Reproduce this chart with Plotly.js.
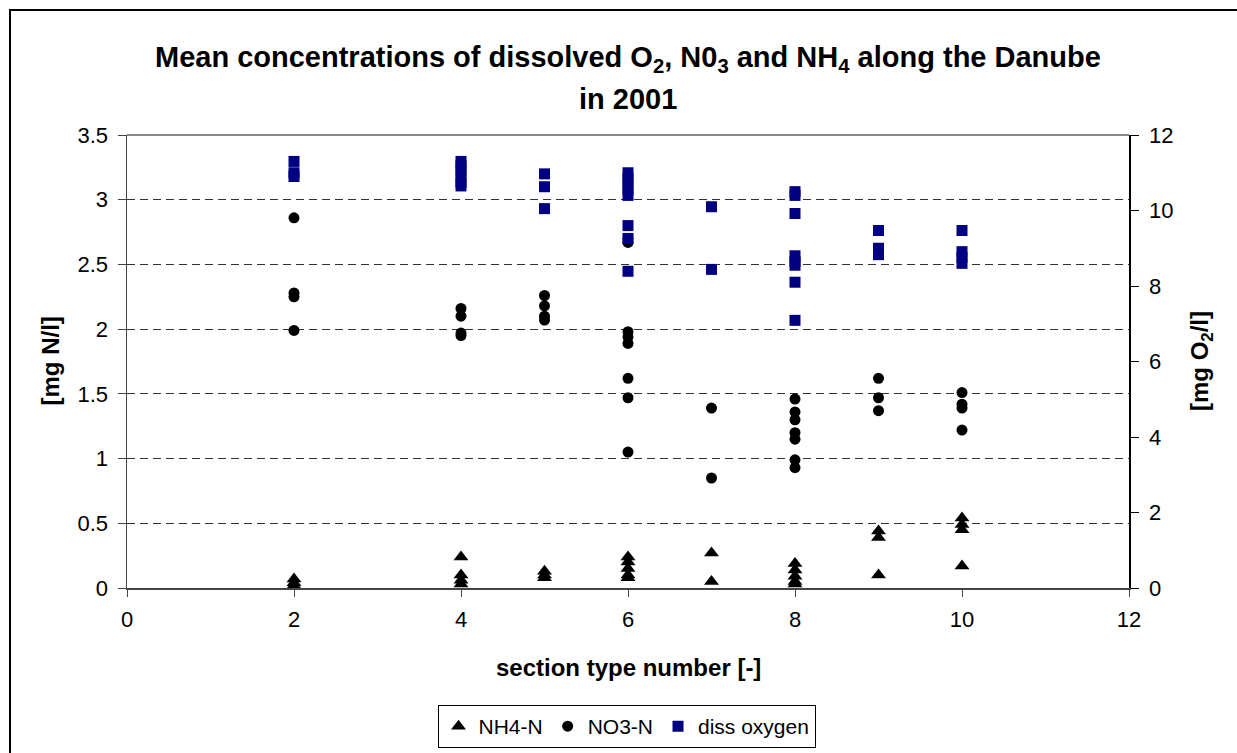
<!DOCTYPE html>
<html>
<head>
<meta charset="utf-8">
<script src="https://cdn.plot.ly/plotly-3.0.1.min.js"></script>
<style>
  html, body { margin: 0; padding: 0; background: #fff; }
  #wrap { position: relative; width: 1237px; height: 753px; overflow: hidden; }
  #chart { position: absolute; left: 0; top: 0; width: 1237px; height: 753px; }
  #frame { position: absolute; left: 9px; top: 9px; width: 1240px; height: 760px;
           border: 2px solid #000; pointer-events: none; box-sizing: border-box; }
</style>
</head>
<body>
<div id="wrap">
  <div id="chart"></div>
  <div id="frame"></div>
</div>
<script>
// ---- data ----
const nh4X = [2,2,2, 4,4,4,4, 5,5,5, 6,6,6,6,6, 7,7, 8,8,8,8,8, 9,9,9, 10,10,10,10];
const nh4Y = [0.07,0.04,0.02, 0.24,0.10,0.06,0.03, 0.13,0.10,0.08, 0.24,0.20,0.15,0.10,0.08,
              0.27,0.05, 0.19,0.14,0.09,0.05,0.03, 0.44,0.39,0.10, 0.54,0.49,0.45,0.17];

const no3X = [2,2,2,2, 4,4,4,4, 5,5,5,5, 6,6,6,6,6,6,6,6, 7,7, 8,8,8,8,8,8,8, 9,9,9, 10,10,10,10];
const no3Y = [2.86,2.28,2.25,1.99, 2.16,2.10,1.97,1.95, 2.26,2.18,2.10,2.07,
              2.70,2.67,1.98,1.94,1.89,1.62,1.47,1.05, 1.39,0.85,
              1.46,1.36,1.30,1.20,1.15,0.99,0.93, 1.62,1.47,1.37, 1.51,1.42,1.39,1.22];

const o2X = [2,2,2, 4,4,4,4,4,4, 5,5,5, 6,6,6,6,6,6,6,6, 7,7, 8,8,8,8,8,8,8,8, 9,9,9, 10,10,10,10];
const o2Y = [11.3,11.0,10.9, 11.3,11.2,11.05,10.9,10.75,10.65, 10.97,10.63,10.05,
             11.0,10.85,10.7,10.55,10.4,9.6,9.26,8.39, 10.1,8.44,
             10.5,10.4,9.92,8.8,8.65,8.55,8.1,7.09, 9.47,9.0,8.83, 9.47,8.91,8.76,8.6];

const seriesNames = ['NH4-N', 'NO3-N', 'diss oxygen'];
const xTicks = [0,2,4,6,8,10,12];
const yLeftTicks = [0,0.5,1,1.5,2,2.5,3,3.5];
const yRightTicks = [0,2,4,6,8,10,12];
const titleLine1 = 'Mean concentrations of dissolved O<sub>2</sub>, N0<sub>3</sub> and NH<sub>4</sub> along the Danube';
const titleLine2 = 'in 2001';
const xTitle = 'section type number [-]';
const yLeftTitle = '[mg N/l]';
const yRightTitle = '[mg O<sub>2</sub>/l]';

const FONT = '"Liberation Sans", Arial, sans-serif';

const traces = [
  { x: nh4X, y: nh4Y, name: seriesNames[0], type: 'scatter', mode: 'markers',
    marker: { symbol: 'triangle-up', size: 13, color: '#000' }, yaxis: 'y' },
  { x: no3X, y: no3Y, name: seriesNames[1], type: 'scatter', mode: 'markers',
    marker: { symbol: 'circle', size: 11, color: '#000' }, yaxis: 'y' },
  { x: o2X, y: o2Y, name: seriesNames[2], type: 'scatter', mode: 'markers',
    marker: { symbol: 'square', size: 11, color: '#000080' }, yaxis: 'y2' }
];

const L = 127, R = 1237 - 1129, T = 135, B = 753 - 588;
const plotW = 1129 - 127, plotH = 588 - 135;
function py(pix) { return (588 - pix) / plotH; }
function px(pix) { return (pix - 127) / plotW; }

const layout = {
  width: 1237, height: 753,
  margin: { l: L, r: R, t: T, b: B, pad: 0, autoexpand: false },
  paper_bgcolor: '#fff', plot_bgcolor: '#fff',
  font: { family: FONT, size: 22, color: '#000' },
  showlegend: true,
  legend: {
    orientation: 'h', x: px(626.5), xanchor: 'center', y: py(705), yanchor: 'top',
    bordercolor: '#000', borderwidth: 1, bgcolor: '#fff',
    font: { family: FONT, size: 21, color: '#000' },
    itemsizing: 'trace', traceorder: 'normal', itemwidth: 30,
    tracegroupgap: 0
  },
  xaxis: {
    range: [0, 12], tickvals: xTicks, ticktext: xTicks.map(String),
    showgrid: false, zeroline: false,
    showline: true, linecolor: '#444', linewidth: 2,
    ticks: 'outside', ticklen: 7, tickcolor: '#444',
    ticklabelstandoff: 4,
    tickfont: { family: FONT, size: 22, color: '#000' },
    automargin: false
  },
  yaxis: {
    range: [0, 3.5], tickvals: yLeftTicks, ticktext: yLeftTicks.map(String),
    showgrid: true, gridcolor: '#333', gridwidth: 1, griddash: '8px,5px',
    zeroline: false,
    showline: true, linecolor: '#444', linewidth: 1.5,
    ticks: 'outside', ticklen: 8, tickcolor: '#444',
    ticklabelstandoff: 5,
    tickfont: { family: FONT, size: 22, color: '#000' },
    automargin: false
  },
  yaxis2: {
    overlaying: 'y', side: 'right',
    range: [0, 12], tickvals: yRightTicks, ticktext: yRightTicks.map(String),
    showgrid: false, zeroline: false,
    showline: true, linecolor: '#000', linewidth: 1.5,
    ticks: 'outside', ticklen: 8, tickcolor: '#000',
    ticklabelstandoff: 6,
    tickfont: { family: FONT, size: 22, color: '#000' },
    automargin: false
  },
  shapes: [
    { type: 'line', xref: 'paper', yref: 'paper', x0: 0, x1: 1, y0: 1, y1: 1,
      line: { color: '#888', width: 2 } }
  ],
  annotations: [
    { xref: 'paper', yref: 'paper', x: px(628), y: py(59), xanchor: 'center', yanchor: 'middle',
      showarrow: false, text: '<b>' + titleLine1 + '</b>',
      font: { family: FONT, size: 29, color: '#000' } },
    { xref: 'paper', yref: 'paper', x: px(628), y: py(99), xanchor: 'center', yanchor: 'middle',
      showarrow: false, text: '<b>' + titleLine2 + '</b>',
      font: { family: FONT, size: 29, color: '#000' } },
    { xref: 'paper', yref: 'paper', x: px(628), y: py(667), xanchor: 'center', yanchor: 'middle',
      showarrow: false, text: '<b>' + xTitle + '</b>',
      font: { family: FONT, size: 24, color: '#000' } },
    { xref: 'paper', yref: 'paper', x: px(49.5), y: py(361), xanchor: 'center', yanchor: 'middle',
      showarrow: false, textangle: -90, text: '<b>' + yLeftTitle + '</b>',
      font: { family: FONT, size: 24, color: '#000' } },
    { xref: 'paper', yref: 'paper', x: px(1201), y: py(361), xanchor: 'center', yanchor: 'middle',
      showarrow: false, textangle: -90, text: '<b>' + yRightTitle + '</b>',
      font: { family: FONT, size: 24, color: '#000' } }
  ]
};

Plotly.newPlot('chart', traces, layout, { staticPlot: true, displayModeBar: false });
</script>
</body>
</html>
